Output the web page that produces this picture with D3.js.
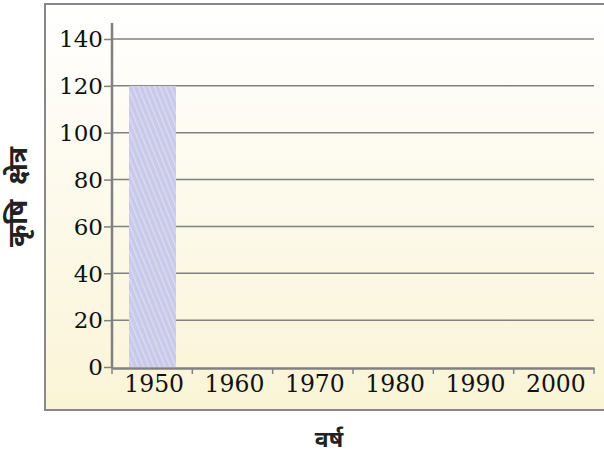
<!DOCTYPE html>
<html>
<head>
<meta charset="utf-8">
<script src="https://cdn.jsdelivr.net/npm/d3@7"></script>
<style>
  body { margin: 0; background: #fff; }
  svg { display: block; }
</style>
</head>
<body>
<div id="chart"></div>
<script>
'use strict';

// data
var years = ['1950', '1960', '1970', '1980', '1990', '2000'];
var area = [120, null, null, null, null, null];
var yTicks = [0, 20, 40, 60, 80, 100, 120, 140];

var W = 604, H = 457;
var m = { left: 112, right: 11, top: 39, bottom: 90 };

var svg = d3.select('#chart')
    .append('svg')
    .attr('width', W)
    .attr('height', H);

var defs = svg.append('defs');

// panel background gradient
var grad = defs.append('linearGradient')
    .attr('id', 'bg')
    .attr('x1', 0).attr('y1', 0).attr('x2', 0).attr('y2', 1);
grad.append('stop').attr('offset', '0%').attr('stop-color', '#ffffff');
grad.append('stop').attr('offset', '100%').attr('stop-color', '#faf4d6');

// hatched bar
var pat = defs.append('pattern')
    .attr('id', 'hatch')
    .attr('patternUnits', 'userSpaceOnUse')
    .attr('width', 5).attr('height', 5)
    .attr('patternTransform', 'rotate(-22)');
pat.append('rect').attr('width', 5).attr('height', 5).attr('fill', '#c9c9e9');
pat.append('rect').attr('x', 0).attr('width', 1.3).attr('height', 5).attr('fill', '#dcdcf2');

// panel
svg.append('rect')
    .attr('x', 45).attr('y', 4)
    .attr('width', 570).attr('height', 406)
    .attr('fill', 'url(#bg)')
    .attr('stroke', '#888888')
    .attr('stroke-width', 2);

var x = d3.scaleBand()
    .domain(years)
    .range([m.left, W - m.right + 1])
    .paddingInner(0)
    .paddingOuter(0);

var y = d3.scaleLinear()
    .domain([0, 140])
    .range([367, m.top]);

// grid lines
svg.append('g')
    .selectAll('line')
    .data(yTicks.filter(function(d) { return d > 0; }))
    .enter().append('line')
    .attr('x1', m.left)
    .attr('x2', W - m.right + 1)
    .attr('y1', function(d) { return y(d); })
    .attr('y2', function(d) { return y(d); })
    .attr('stroke', '#808080')
    .attr('stroke-width', 1.5);

// bars
svg.append('g')
    .selectAll('rect')
    .data(years.map(function(d, i) { return { year: d, v: area[i] }; })
        .filter(function(d) { return d.v != null; }))
    .enter().append('rect')
    .attr('x', function(d) { return x(d.year) + 17; })
    .attr('width', 47)
    .attr('y', function(d) { return y(d.v); })
    .attr('height', function(d) { return y(0) - y(d.v); })
    .attr('fill', 'url(#hatch)');

// y axis
var yAxis = svg.append('g')
    .attr('transform', 'translate(' + m.left + ',0)')
    .call(d3.axisLeft(y).tickValues(yTicks).tickSize(8).tickPadding(1));
yAxis.select('.domain')
    .attr('d', 'M0,23V368')
    .attr('stroke', '#808080')
    .attr('stroke-width', 2.5);
yAxis.selectAll('.tick line').attr('stroke', '#808080').attr('stroke-width', 1.5);
yAxis.selectAll('.tick text')
    .attr('fill', '#111')
    .attr('dy', '0.34em')
    .style('font-family', '"DejaVu Serif", serif')
    .style('font-size', '23px');

// x axis
var xAxis = svg.append('g')
    .attr('transform', 'translate(0,368)')
    .call(d3.axisBottom(x).tickSize(0).tickPadding(7));
xAxis.select('.domain')
    .attr('stroke', '#808080')
    .attr('stroke-width', 2.5);
xAxis.selectAll('.tick text')
    .attr('dx', 2)
    .attr('fill', '#111')
    .style('font-family', '"DejaVu Serif", serif')
    .style('font-size', '23.5px');

// small ticks between categories
svg.append('g')
    .selectAll('line')
    .data(years.concat(['end']))
    .enter().append('line')
    .attr('x1', function(d, i) { return m.left + i * x.bandwidth(); })
    .attr('x2', function(d, i) { return m.left + i * x.bandwidth(); })
    .attr('y1', 368)
    .attr('y2', 374)
    .attr('stroke', '#808080')
    .attr('stroke-width', 1.5);

// axis titles
svg.append('text')
    .attr('transform', 'translate(27,197) rotate(-90)')
    .attr('text-anchor', 'middle')
    .style('font-family', '"Noto Sans Devanagari", "Noto Sans", sans-serif')
    .style('font-weight', 'bold')
    .style('font-size', '27px')
    .style('word-spacing', '8px')
    .attr('fill', '#222')
    .text('कृषि क्षेत्र');

svg.append('text')
    .attr('x', 329)
    .attr('y', 447)
    .attr('text-anchor', 'middle')
    .style('font-family', '"Noto Sans Devanagari", "Noto Sans", sans-serif')
    .style('font-weight', 'bold')
    .style('font-size', '23px')
    .attr('fill', '#222')
    .text('वर्ष');
</script>
</body>
</html>
